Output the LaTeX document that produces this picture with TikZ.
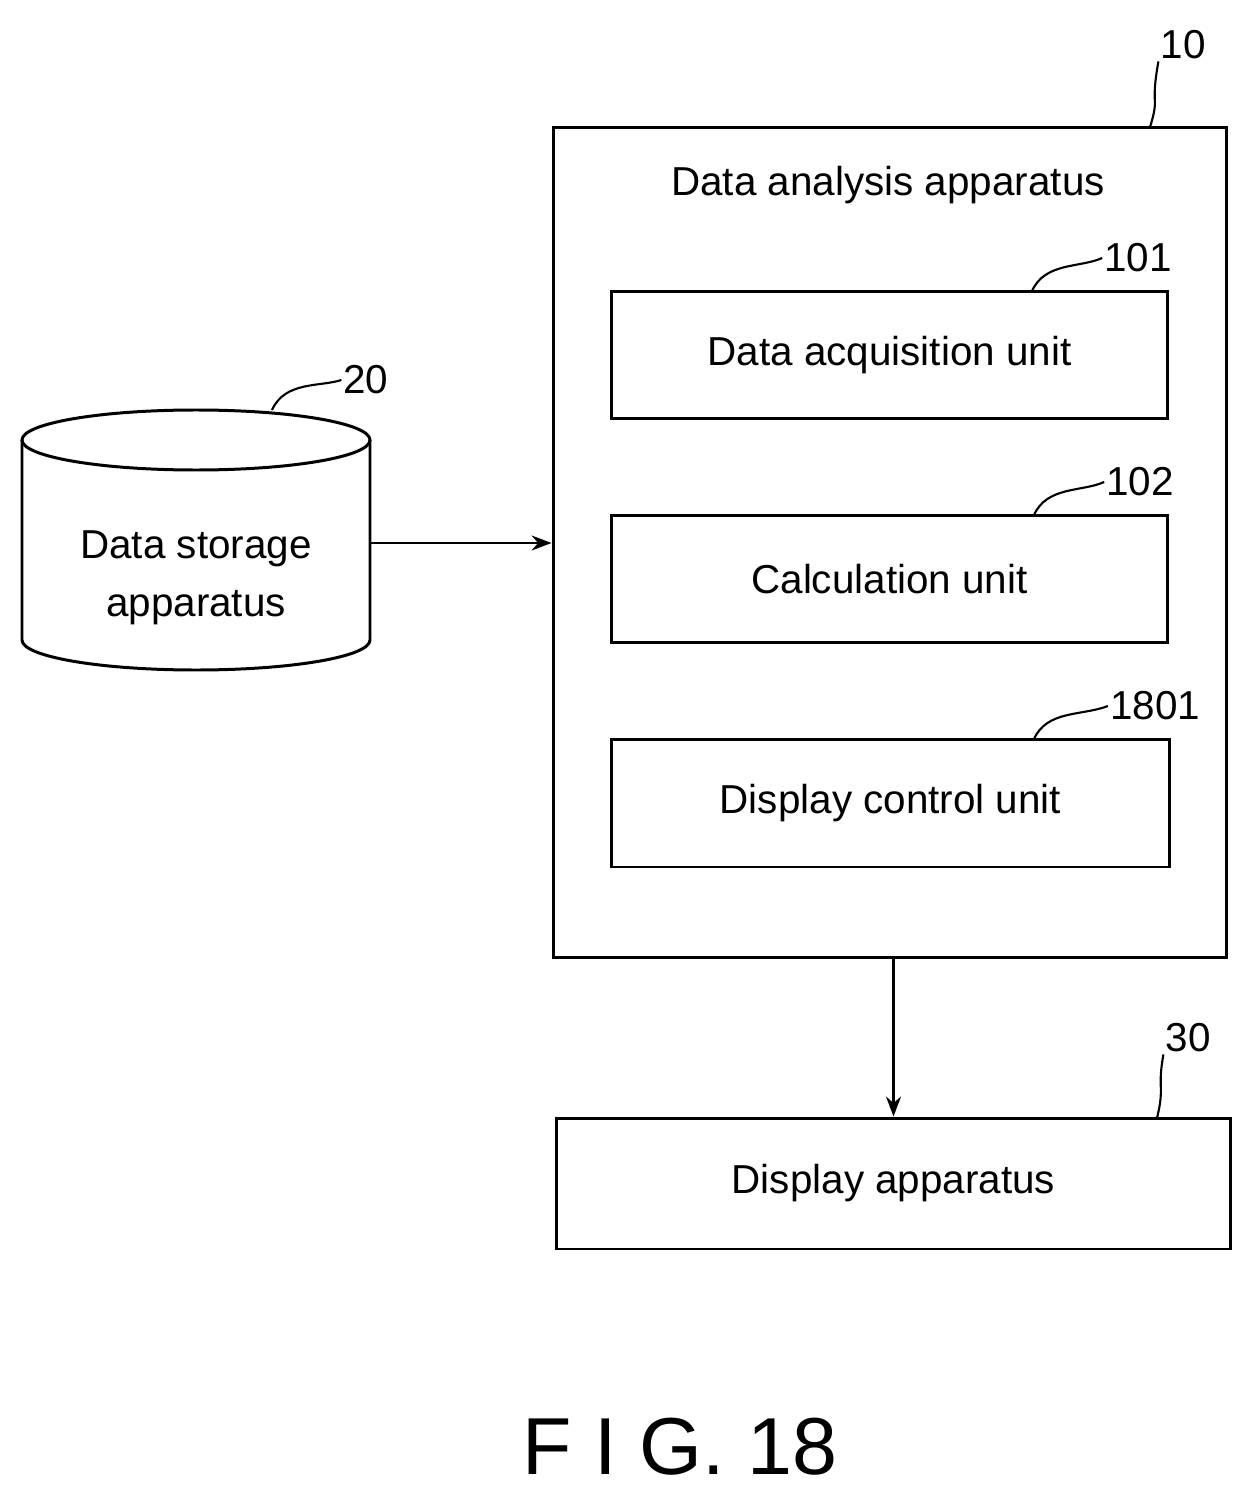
\documentclass[tikz,border=0pt]{standalone}
\usepackage{fontspec}
\setmainfont{Liberation Sans}
\usetikzlibrary{positioning,arrows.meta}

\begin{document}
\begin{tikzpicture}
    [
    x=0.02cm, y=-0.02cm,
    box/.style={draw,line width=1.7pt,minimum height=2.56cm,minimum width=11.14cm,font=\fontsize{23}{27}\selectfont},
    ref/.style={font=\fontsize{23}{27}\selectfont,inner sep=1pt},
    lead/.style={line width=1.2pt},
    arr/.style={line width=1.3pt,-{Stealth[length=4mm,width=3mm]}},
    ]
    \useasboundingbox (0,0) rectangle (1254,1503);

    \node (analysis) at (890,542.5) [draw,line width=1.7pt,minimum width=13.48cm,minimum height=16.62cm] {};
    \node (title) at (888,185) [font=\fontsize{23}{27}\selectfont] {Data analysis apparatus};
    \node (acq) at (889.5,355) [box] {Data acquisition unit};
    \node (calc) at (889.5,579) [box] {Calculation unit};
    \node (disp) at (890.5,803) [box,minimum width=11.18cm] {Display control unit};
    \node (display) at (893.5,1183.5) [box,minimum width=13.5cm,minimum height=2.62cm] {Display apparatus};

    % cylinder
    \node (storage) at (196,578) [align=center,font=\fontsize{23}{33}\selectfont] {Data storage\\apparatus};
    \draw [line width=1.7pt] (196,440) ellipse [x radius=174,y radius=30];
    \draw [line width=1.7pt] (22,440) -- (22,640) arc [start angle=180,end angle=0,x radius=174,y radius=30] -- (370,440);
    \coordinate (sout) at (370,543);

    \draw [arr] (sout) -- (sout -| analysis.west);
    \draw [arr] (analysis.south -| display.north) -- (display.north);

    % reference numerals
    \node (n10) at (1183,45) [ref] {10};
    \node (n101) at (1138,258) [ref] {101};
    \node (n102) at (1140,482) [ref] {102};
    \node (n1801) at (1155,706) [ref] {1801};
    \node (n20) at (366,380) [ref] {20};
    \node (n30) at (1188,1038) [ref] {30};
    \draw [lead] (1150,127) .. controls (1160,95) and (1150,108) .. (n10.south west);
    \draw [lead] (1032,291) .. controls (1045,262) and (1080,268) .. (n101.west);
    \draw [lead] (1034,515) .. controls (1047,486) and (1082,492) .. (n102.west);
    \draw [lead] (1034,739) .. controls (1047,710) and (1082,716) .. (n1801.west);
    \draw [lead] (272,410) .. controls (285,381) and (320,387) .. (n20.west);
    \draw [lead] (1157,1118) .. controls (1165,1085) and (1157,1090) .. (n30.south west);

    \node (fig) at (680,1447) [font=\fontsize{46}{50}\selectfont] {F I G. 18};
  \end{tikzpicture}
\end{document}
